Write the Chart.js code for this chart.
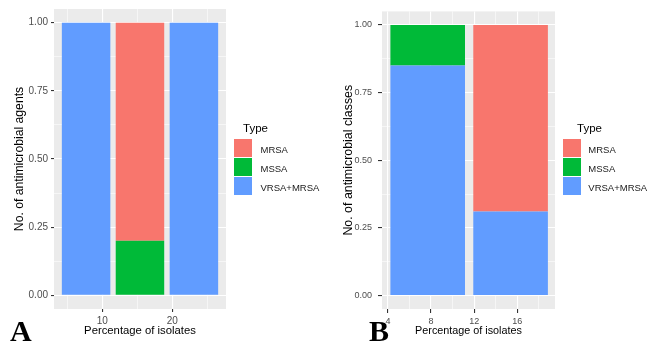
<!DOCTYPE html>
<html><head><meta charset="utf-8">
<script src="https://cdn.jsdelivr.net/npm/chart.js@4.4.0/dist/chart.umd.min.js"></script>
<style>
html,body{margin:0;padding:0;background:#fff;width:647px;height:343px;overflow:hidden;position:relative;font-family:"Liberation Sans",Arial,sans-serif;}
canvas{position:absolute;top:0;}
#ca{left:0;}
#cb{left:320px;}
.lg{position:absolute;font-size:9.5px;color:#1a1a1a;white-space:nowrap;line-height:1;}
.key{position:absolute;width:18px;height:18px;}
.ttl{position:absolute;font-size:11.5px;color:#000;line-height:1;}
.panel{position:absolute;font-family:"Liberation Serif","Times New Roman",serif;font-weight:bold;font-size:30px;line-height:1;color:#000;}
</style></head>
<body>
<canvas id="ca" width="320" height="343"></canvas>
<canvas id="cb" width="327" height="343"></canvas>
<div class="panel" style="left:10px;top:316px;">A</div>
<div class="panel" style="left:369px;top:316px;">B</div>
<div id="legends"></div>
<script>
// ---- data ----
const TYPES = ['MRSA', 'MSSA', 'VRSA+MRSA'];
const TYPE_COLORS = ['#F8766D', '#00BA38', '#619CFF'];

// Panel A
const A_x = [7.69, 15.38, 23.08];
const A_MRSA = [null, 0.80, null];
const A_MSSA = [null, 0.20, null];
const A_VRSA_MRSA = [1.00, null, 1.00];
const A_xMajor = [10, 20];
const A_xMinor = [5, 15, 25];

// Panel B
const B_x = [7.69, 15.38];
const B_MRSA = [null, 0.69];
const B_MSSA = [0.15, null];
const B_VRSA_MRSA = [0.85, 0.31];
const B_xMajor = [4, 8, 12, 16];
const B_xMinor = [6, 10, 14, 18];

const Y_major = [0, 0.25, 0.5, 0.75, 1];
const Y_minor = [0.125, 0.375, 0.625, 0.875];

const X_TITLE = 'Percentage of isolates';
const A_yTitle = 'No. of antimicrobial agents';
const B_yTitle = 'No. of antimicrobial classes';

// ---- helpers ----
const near = (arr, v) => arr.some(a => Math.abs(a - v) < 1e-6);

const bgPlugin = {
  id: 'panelBg',
  beforeDraw(chart) {
    const {ctx, chartArea: a} = chart;
    ctx.save();
    ctx.fillStyle = '#EBEBEB';
    ctx.fillRect(a.left, a.top, a.right - a.left, a.bottom - a.top);
    ctx.restore();
  }
};

function makePanel(id, p) {
  const series = [
    {label: TYPES[2], vals: p.vrsa, color: TYPE_COLORS[2]},
    {label: TYPES[1], vals: p.mssa, color: TYPE_COLORS[1]},
    {label: TYPES[0], vals: p.mrsa, color: TYPE_COLORS[0]}
  ];
  const datasets = series.map(d => ({
    label: d.label,
    data: p.x.map((x, i) => ({x: x, y: d.vals[i]})),
    backgroundColor: d.color,
    borderWidth: 0,
    xAxisID: 'xb', yAxisID: 'y', stack: 'fill',
    barPercentage: 0.9, categoryPercentage: 1.0
  }));
  const xGrid = [...p.xMajor, ...p.xMinor].sort((a, b) => a - b);
  const yGrid = [...Y_major, ...Y_minor].sort((a, b) => a - b);
  const gridW = (major) => c => (c.tick && near(major, c.tick.value)) ? 1.1 : 0.55;
  const tickC = (major) => c => (c.tick && near(major, c.tick.value)) ? '#333333' : 'rgba(0,0,0,0)';
  return new Chart(document.getElementById(id), {
    type: 'bar',
    data: {datasets},
    options: {
      responsive: false, animation: false, devicePixelRatio: 1,
      layout: {padding: {top: p.top, right: p.right, left: 0, bottom: 0}},
      plugins: {legend: {display: false}, tooltip: {enabled: false}},
      scales: {
        xb: {
          type: 'linear', display: false, position: 'bottom', stacked: true,
          offset: false, grid: {offset: false},
          min: p.xMin, max: p.xMax,
          afterBuildTicks: s => { s.ticks = p.x.map(v => ({value: v})); }
        },
        x: {
          type: 'linear', position: 'bottom', offset: false,
          min: p.xMin, max: p.xMax,
          afterBuildTicks: s => { s.ticks = xGrid.map(v => ({value: v})); },
          grid: {color: '#FFFFFF', lineWidth: gridW(p.xMajor), tickColor: tickC(p.xMajor),
                 tickLength: p.tickLen, offset: false, drawTicks: true},
          border: {display: false},
          ticks: {
            autoSkip: false, maxRotation: 0, padding: 3, color: '#4D4D4D',
            font: {size: p.tickSize},
            callback: v => near(p.xMajor, v) ? String(v) : ''
          },
          title: {display: true, text: X_TITLE, color: '#000', font: {size: p.xTitleSize},
                  padding: {top: 0, bottom: p.xTitlePad}},
          afterFit: s => { s.height = p.xAxisH; }
        },
        y: {
          type: 'linear', position: 'left', stacked: true,
          min: -0.05, max: 1.05,
          afterBuildTicks: s => { s.ticks = yGrid.map(v => ({value: v})); },
          grid: {color: '#FFFFFF', lineWidth: gridW(Y_major), tickColor: tickC(Y_major),
                 tickLength: p.tickLen, drawTicks: true},
          border: {display: false},
          ticks: {
            autoSkip: false, padding: p.yTickPad, color: '#4D4D4D',
            font: {size: p.tickSize},
            callback: v => near(Y_major, v) ? v.toFixed(2) : ''
          },
          title: {display: true, text: p.yTitle, color: '#000', font: {size: p.yTitleSize},
                  padding: {top: p.yTitlePad, bottom: 0}},
          afterFit: s => { s.width = p.yAxisW; }
        }
      }
    },
    plugins: [bgPlugin]
  });
}

makePanel('ca', {
  x: A_x, mrsa: A_MRSA, mssa: A_MSSA, vrsa: A_VRSA_MRSA,
  xMajor: A_xMajor, xMinor: A_xMinor, xMin: 3.11, xMax: 27.66,
  yTitle: A_yTitle, top: 9, right: 94, yAxisW: 54, xAxisH: 34,
  tickLen: 3, yTickPad: 3, tickSize: 10, xTitleSize: 11.3, xTitlePad: 5.6,
  yTitleSize: 12.2, yTitlePad: 12.7
});
makePanel('cb', {
  x: B_x, mrsa: B_MRSA, mssa: B_MSSA, vrsa: B_VRSA_MRSA,
  xMajor: B_xMajor, xMinor: B_xMinor, xMin: 3.45, xMax: 19.5,
  yTitle: B_yTitle, top: 9, right: 92, yAxisW: 62, xAxisH: 34,
  tickLen: 4, yTickPad: 6, tickSize: 9, xTitleSize: 10.8, xTitlePad: 5.9,
  yTitleSize: 12.4, yTitlePad: 20.9
});

// ---- legends (ggplot order: MRSA, MSSA, VRSA+MRSA) ----
function legend(titleLeft, keyLeft, labelLeft) {
  const host = document.getElementById('legends');
  const t = document.createElement('div');
  t.className = 'ttl'; t.textContent = 'Type';
  t.style.left = titleLeft + 'px'; t.style.top = '122.5px';
  host.appendChild(t);
  TYPES.forEach((name, i) => {
    const top = 139 + i * 19.2;
    const k = document.createElement('div');
    k.className = 'key'; k.style.background = TYPE_COLORS[i];
    k.style.left = keyLeft + 'px'; k.style.top = top + 'px';
    host.appendChild(k);
    const l = document.createElement('div');
    l.className = 'lg'; l.textContent = name;
    l.style.left = labelLeft + 'px'; l.style.top = (top + 9 + 1.5 - 4.6) + 'px';
    host.appendChild(l);
  });
}
legend(243, 234, 260.5);
legend(577, 562.7, 588.3);
</script>
</body></html>
